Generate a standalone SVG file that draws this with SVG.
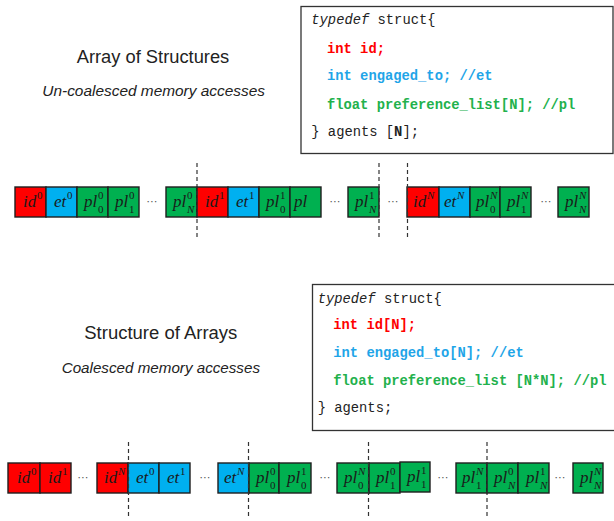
<svg xmlns="http://www.w3.org/2000/svg" width="614" height="521" viewBox="0 0 614 521">
<defs>
<style>
.r{fill:#FF0000}.b{fill:#00B0F0}.g{fill:#00B050}
rect.c{stroke:#1e1e1e;stroke-width:1.4}
.m{font-family:"Liberation Serif","DejaVu Serif",serif;font-style:italic;fill:#1a1a1a}
.base{font-size:17px}.sc{font-size:11px}.d{font-style:normal}
.dots{font-family:"DejaVu Sans",sans-serif;font-size:11px;fill:#555;text-anchor:middle}
.code{font-family:"Liberation Mono","Courier New",monospace;font-size:13.8px;fill:#222}
.bd{font-weight:bold}
.cr{fill:#FF0000}.cb{fill:#1FA5E8}.cg{fill:#22B14C}
.box{fill:#fff;stroke:#333;stroke-width:1.3}
.title{font-family:"Liberation Sans",Arial,sans-serif;font-size:17.5px;fill:#222}
.sub{font-family:"Liberation Sans",Arial,sans-serif;font-size:15.5px;font-style:italic;fill:#222}
.dash{stroke:#333;stroke-width:1.2;stroke-dasharray:4 3;fill:none}
</style>
</defs>
<rect width="614" height="521" fill="#fff"/>

<g id="title-aos">
<text class="title" x="76.7" y="63.3" textLength="152.6" lengthAdjust="spacingAndGlyphs">Array of Structures</text>
<text class="sub" x="42.3" y="96" textLength="222.7" lengthAdjust="spacingAndGlyphs">Un-coalesced memory accesses</text>
</g>
<g id="title-soa">
<text class="title" x="84.3" y="339.3" textLength="153" lengthAdjust="spacingAndGlyphs">Structure of Arrays</text>
<text class="sub" x="61.7" y="373.3" textLength="198.3" lengthAdjust="spacingAndGlyphs">Coalesced memory accesses</text>
</g>

<g id="code-aos">
<rect class="box" x="301" y="6.5" width="312" height="147"/>
<text class="code" x="311.3" y="24.3"><tspan font-style="italic">typedef</tspan> struct{</text>
<text class="code cr bd" x="327" y="52.7">int id;</text>
<text class="code cb bd" x="327" y="80">int engaged_to; //et</text>
<text class="code cg bd" x="327" y="108.7">float preference_list[N]; //pl</text>
<text class="code" x="311.3" y="136">} agents [<tspan class="bd">N</tspan>];</text>
</g>

<g id="code-soa">
<rect class="box" x="312.5" y="284.5" width="310" height="146"/>
<text class="code" x="317.7" y="302.7"><tspan font-style="italic">typedef</tspan> struct{</text>
<text class="code cr bd" x="333.3" y="329.3">int id[N];</text>
<text class="code cb bd" x="333.3" y="357.3">int engaged_to[N]; //et</text>
<text class="code cg bd" x="333.3" y="385">float preference_list [N*N]; //pl</text>
<text class="code" x="317.7" y="411.7">} agents;</text>
</g>

<g id="aos-row">
<g id="a1"><rect class="c r" x="15" y="187" width="31" height="30"/><text class="m base" x="23" y="207">id</text><text class="m sc d" x="37" y="199">0</text></g>
<g id="a2"><rect class="c b" x="46" y="187" width="31" height="30"/><text class="m base" x="54" y="207">et</text><text class="m sc d" x="67" y="199">0</text></g>
<g id="a3"><rect class="c g" x="77" y="187" width="31" height="30"/><text class="m base" x="84" y="207">pl</text><text class="m sc d" x="98" y="199">0</text><text class="m sc d" x="98" y="213">0</text></g>
<g id="a4"><rect class="c g" x="108" y="187" width="31" height="30"/><text class="m base" x="115" y="207">pl</text><text class="m sc d" x="129" y="199">0</text><text class="m sc d" x="129" y="213">1</text></g>
<g id="a5"><rect class="c g" x="166" y="187" width="31" height="30"/><text class="m base" x="173" y="207">pl</text><text class="m sc d" x="187" y="199">0</text><text class="m sc" x="187" y="213">N</text></g>
<g id="a6"><rect class="c r" x="197" y="187" width="31" height="30"/><text class="m base" x="205" y="207">id</text><text class="m sc d" x="219" y="199">1</text></g>
<g id="a7"><rect class="c b" x="228" y="187" width="31" height="30"/><text class="m base" x="236" y="207">et</text><text class="m sc d" x="249" y="199">1</text></g>
<g id="a8"><rect class="c g" x="259" y="187" width="31" height="30"/><text class="m base" x="266" y="207">pl</text><text class="m sc d" x="280" y="199">1</text><text class="m sc d" x="280" y="213">0</text></g>
<g id="a9"><rect class="c g" x="290" y="187" width="31" height="30"/><text class="m base" x="294" y="207">pl</text></g>
<g id="a10"><rect class="c g" x="348" y="187" width="31" height="30"/><text class="m base" x="355" y="207">pl</text><text class="m sc d" x="369" y="199">1</text><text class="m sc" x="369" y="213">N</text></g>
<g id="a11"><rect class="c r" x="407" y="187" width="32" height="30"/><text class="m base" x="413" y="207">id</text><text class="m sc" x="427" y="199">N</text></g>
<g id="a12"><rect class="c b" x="439" y="187" width="31" height="30"/><text class="m base" x="444" y="207">et</text><text class="m sc" x="457" y="199">N</text></g>
<g id="a13"><rect class="c g" x="470" y="187" width="30" height="30"/><text class="m base" x="476" y="207">pl</text><text class="m sc" x="490" y="199">N</text><text class="m sc d" x="490" y="213">0</text></g>
<g id="a14"><rect class="c g" x="500" y="187" width="31" height="30"/><text class="m base" x="507" y="207">pl</text><text class="m sc" x="521" y="199">N</text><text class="m sc d" x="521" y="213">1</text></g>
<g id="a15"><rect class="c g" x="558" y="187" width="31" height="30"/><text class="m base" x="565" y="207">pl</text><text class="m sc" x="579" y="199">N</text><text class="m sc" x="579" y="213">N</text></g>
<text class="dots" x="152" y="205" fill="#334">⋯</text>
<text class="dots" x="335" y="205">⋯</text>
<text class="dots" x="393" y="205">⋯</text>
<text class="dots" x="546" y="205">⋯</text>
</g>

<g id="soa-row">
<g id="s1"><rect class="c r" x="8" y="463" width="32" height="30"/><text class="m base" x="17" y="483">id</text><text class="m sc d" x="31" y="475">0</text></g>
<g id="s2"><rect class="c r" x="40" y="463" width="31" height="30"/><text class="m base" x="48" y="483">id</text><text class="m sc d" x="62" y="475">1</text></g>
<g id="s3"><rect class="c r" x="97" y="463" width="31" height="30"/><text class="m base" x="104" y="483">id</text><text class="m sc" x="118" y="475">N</text></g>
<g id="s4"><rect class="c b" x="128" y="463" width="31" height="30"/><text class="m base" x="136" y="483">et</text><text class="m sc d" x="149" y="475">0</text></g>
<g id="s5"><rect class="c b" x="159" y="463" width="31" height="30"/><text class="m base" x="167" y="483">et</text><text class="m sc d" x="180" y="475">1</text></g>
<g id="s6"><rect class="c b" x="218" y="463" width="31" height="30"/><text class="m base" x="224" y="483">et</text><text class="m sc" x="237" y="475">N</text></g>
<g id="s7"><rect class="c g" x="249" y="463" width="30" height="30"/><text class="m base" x="256" y="483">pl</text><text class="m sc d" x="270" y="475">0</text><text class="m sc d" x="270" y="489">0</text></g>
<g id="s8"><rect class="c g" x="279" y="463" width="32" height="30"/><text class="m base" x="287" y="483">pl</text><text class="m sc d" x="301" y="475">1</text><text class="m sc d" x="301" y="489">0</text></g>
<g id="s9"><rect class="c g" x="337" y="463" width="32" height="30"/><text class="m base" x="344" y="483">pl</text><text class="m sc" x="358" y="475">N</text><text class="m sc d" x="358" y="489">0</text></g>
<g id="s10"><rect class="c g" x="369" y="463" width="31" height="30"/><text class="m base" x="376" y="483">pl</text><text class="m sc d" x="390" y="475">0</text><text class="m sc d" x="390" y="489">1</text></g>
<g id="s11"><rect class="c g" x="400" y="462" width="30" height="30"/><text class="m base" x="407" y="482">pl</text><text class="m sc d" x="421" y="474">1</text><text class="m sc d" x="421" y="488">1</text></g>
<g id="s12"><rect class="c g" x="456" y="463" width="31" height="30"/><text class="m base" x="462" y="483">pl</text><text class="m sc" x="476" y="475">N</text><text class="m sc d" x="476" y="489">1</text></g>
<g id="s13"><rect class="c g" x="487" y="463" width="31" height="30"/><text class="m base" x="494" y="483">pl</text><text class="m sc d" x="508" y="475">0</text><text class="m sc" x="508" y="489">N</text></g>
<g id="s14"><rect class="c g" x="518" y="463" width="31" height="30"/><text class="m base" x="526" y="483">pl</text><text class="m sc d" x="540" y="475">1</text><text class="m sc" x="540" y="489">N</text></g>
<g id="s15"><rect class="c g" x="573" y="463" width="30" height="30"/><text class="m base" x="580" y="483">pl</text><text class="m sc" x="594" y="475">N</text><text class="m sc" x="594" y="489">N</text></g>
<text class="dots" x="83" y="481">⋯</text>
<text class="dots" x="205" y="481">⋯</text>
<text class="dots" x="325" y="481">⋯</text>
<text class="dots" x="443" y="481">⋯</text>
<text class="dots" x="560" y="481">⋯</text>
</g>

<g id="connectors">
<line class="dash" x1="197" y1="163" x2="197" y2="238"/>
<line class="dash" x1="379" y1="163" x2="379" y2="238" stroke="#666"/>
<line class="dash" x1="407.5" y1="163" x2="407.5" y2="238"/>
<line class="dash" x1="128.5" y1="442" x2="128.5" y2="518"/>
<line class="dash" x1="248.5" y1="442" x2="248.5" y2="518"/>
<line class="dash" x1="368.5" y1="442" x2="368.5" y2="518"/>
<line class="dash" x1="487" y1="442" x2="487" y2="518"/>
</g>
</svg>
